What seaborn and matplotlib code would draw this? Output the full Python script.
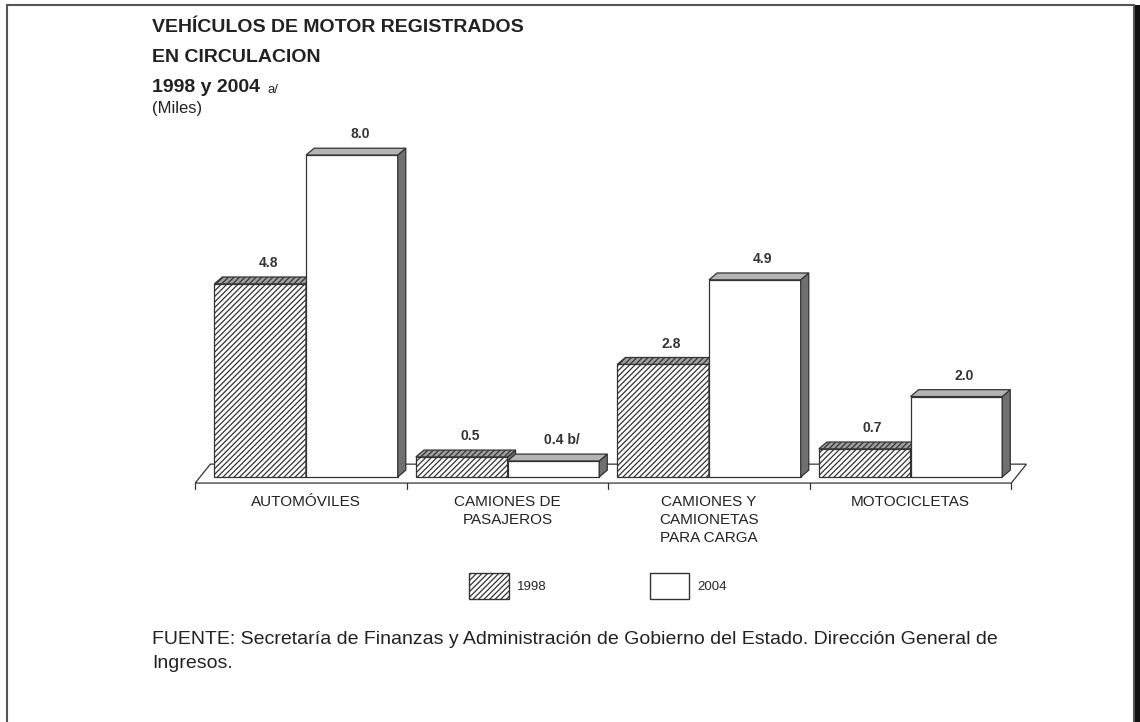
import matplotlib
matplotlib.use('Agg')
import matplotlib.pyplot as plt
import seaborn as sns
import pandas as pd
from matplotlib.patches import Polygon, Patch, Rectangle

# Data
categorias = ['AUTOMÓVILES', 'CAMIONES DE\nPASAJEROS', 'CAMIONES Y\nCAMIONETAS\nPARA CARGA', 'MOTOCICLETAS']
anios = ['1998', '2004']
valores_1998 = [4.8, 0.5, 2.8, 0.7]
valores_2004 = [8.0, 0.4, 4.9, 2.0]
etiquetas_1998 = ['4.8', '0.5', '2.8', '0.7']
etiquetas_2004 = ['8.0', '0.4 b/', '4.9', '2.0']

df = pd.DataFrame({
    'categoria': categorias * 2,
    'anio': [anios[0]] * 4 + [anios[1]] * 4,
    'valor': valores_1998 + valores_2004,
})

sns.set_style('white')
plt.rcParams['font.family'] = ['Liberation Sans', 'DejaVu Sans']
plt.rcParams['hatch.linewidth'] = 0.9

fig = plt.figure(figsize=(11.4, 7.22), dpi=100)
ax = fig.add_axes([0.1624, 0.317, 0.7512, 0.5017])

sns.barplot(data=df, x='categoria', y='valor', hue='anio', order=categorias,
            hue_order=anios, palette=['white', 'white'], width=0.91,
            edgecolor='#333333', linewidth=0.9, legend=False, ax=ax)

ax.set_xlim(-0.6, 3.65)
ax.set_ylim(-0.4, 8.6)

# pseudo-3D depth
dx, dy = 0.04, 0.17
estilos = {
    0: dict(hatch='//////', top='#a0a0a0', side='#6e6e6e', z=2),
    1: dict(hatch=None, top='#b4b4b4', side='#707070', z=3),
}
etiquetas = [etiquetas_1998, etiquetas_2004]

# floor
fl_front, fl_back, fl_dx = -0.15, 0.32, 0.075
piso = Polygon([(-0.55, fl_front), (-0.55 + fl_dx, fl_back), (3.5 + fl_dx, fl_back), (3.5, fl_front)],
               closed=True, facecolor='white', edgecolor='#333333', linewidth=0.9, zorder=1)
ax.add_patch(piso)
for b in [-0.55, 0.5, 1.5, 2.5, 3.5]:
    ax.plot([b, b], [fl_front, fl_front - 0.14], color='#333333', lw=0.9, zorder=1)

for i, cont in enumerate(ax.containers):
    st = estilos[i]
    for j, bar in enumerate(cont):
        x0, w, h = bar.get_x(), bar.get_width(), bar.get_height()
        bar.set_zorder(st['z'])
        if st['hatch']:
            bar.set_hatch(st['hatch'])
        lado = Polygon([(x0 + w, 0), (x0 + w + dx, dy), (x0 + w + dx, h + dy), (x0 + w, h)],
                       closed=True, facecolor=st['side'], edgecolor='#333333', lw=0.9, zorder=st['z'])
        tapa = Polygon([(x0, h), (x0 + dx, h + dy), (x0 + w + dx, h + dy), (x0 + w, h)],
                       closed=True, facecolor=st['top'], edgecolor='#333333', lw=0.9,
                       hatch=st['hatch'], zorder=st['z'])
        ax.add_patch(lado)
        ax.add_patch(tapa)
        ax.text(x0 + w / 2 + dx, h + dy + 0.17, etiquetas[i][j], ha='center', va='bottom',
                fontsize=10, fontweight='bold', color='#333333', zorder=5)

ax.set_xlabel('')
ax.set_ylabel('')
ax.set_yticks([])
ax.tick_params(axis='x', length=0, pad=1, labelsize=11, colors='#222222')
ax.set_xticks(range(4))
ax.set_xticklabels(categorias, linespacing=1.4, va='top')
sns.despine(ax=ax, left=True, bottom=True)

# titles
fig.text(152 / 1140, 1 - 27 / 722, 'VEHÍCULOS DE MOTOR REGISTRADOS', fontsize=14, fontweight='bold',
         color='#222222', va='center')
fig.text(152 / 1140, 1 - 58 / 722, 'EN CIRCULACION', fontsize=14, fontweight='bold',
         color='#222222', va='center')
fig.text(152 / 1140, 1 - 88 / 722, '1998 y 2004', fontsize=14, fontweight='bold',
         color='#222222', va='center')
fig.text(268 / 1140, 1 - 90 / 722, 'a/', fontsize=9.5, color='#222222', va='center')
fig.text(152 / 1140, 1 - 108 / 722, '(Miles)', fontsize=12, color='#222222', va='center')

# legend
handles = [Patch(facecolor='white', edgecolor='#333333', hatch='//////', label='1998'),
           Patch(facecolor='white', edgecolor='#333333', label='2004')]
fig.legend(handles=handles, loc='center', bbox_to_anchor=(598 / 1140, 1 - 586 / 722), ncol=2,
           frameon=False, fontsize=9.5, handlelength=3.0, handleheight=2.6, handletextpad=0.6,
           columnspacing=7.8)

# source
fig.text(152 / 1140, 1 - 640 / 722,
         'FUENTE: Secretaría de Finanzas y Administración de Gobierno del Estado. Dirección General de',
         fontsize=14, color='#222222', va='center')
fig.text(152 / 1140, 1 - 663 / 722, 'Ingresos.', fontsize=14, color='#222222', va='center')

# frame
fig.patches.append(Rectangle((7 / 1140, -0.01), (1134 - 7) / 1140, 1 - 5 / 722 + 0.01,
                             transform=fig.transFigure, fill=False, edgecolor='#555555', lw=1.5))
fig.patches.append(Rectangle((1135 / 1140, 0), 5 / 1140, 1 - 5 / 722,
                             transform=fig.transFigure, facecolor='#111111', edgecolor='none'))

fig.savefig('out.png', dpi=100)
